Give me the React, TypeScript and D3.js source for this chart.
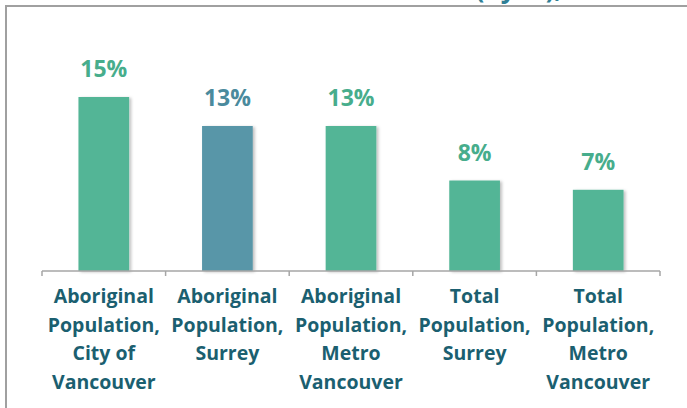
import React from "react";
import * as d3 from "d3";

const categories: string[][] = [
  ["Aboriginal", "Population,", "City of", "Vancouver"],
  ["Aboriginal", "Population,", "Surrey"],
  ["Aboriginal", "Population,", "Metro", "Vancouver"],
  ["Total", "Population,", "Surrey"],
  ["Total", "Population,", "Metro", "Vancouver"],
];
const values: number[] = [15.0, 12.5, 12.5, 7.8, 7.0];
const valueLabels: string[] = ["15%", "13%", "13%", "8%", "7%"];
const highlight: boolean[] = [false, true, false, false, false];

const W = 687;
const H = 408;
const GREEN = "#52b596";
const BLUE = "#5896a8";
const GREEN_TXT = "#47ad8c";
const BLUE_TXT = "#4a8a9d";
const CAT_TXT = "#1b5f70";
const FONT = "'Open Sans', Lato, sans-serif";

export default function App() {
  const ids = categories.map((_, i) => String(i));
  const x = d3
    .scaleBand<string>()
    .domain(ids)
    .range([42, 660])
    .paddingInner(0.59)
    .paddingOuter(0.295);
  const y = d3.scaleLinear().domain([0, 15]).range([271, 97]);
  const step = x.step();
  const tickXs = d3.range(ids.length + 1).map((i) => 42 + i * step);

  return (
    <svg
      width={W}
      height={H}
      style={{ position: "fixed", left: 0, top: 0, background: "#fff" }}
    >
      <defs>
        <filter id="sh" x="-20%" y="-10%" width="150%" height="120%">
          <feDropShadow dx="2" dy="1" stdDeviation="1.5" floodColor="#000" floodOpacity="0.25" />
        </filter>
      </defs>
      <rect x={6} y={6} width={W + 20} height={H + 20} fill="none" stroke="#a0a0a0" strokeWidth={2} />
      <text
        x={562}
        y={-2}
        textAnchor="end"
        fontFamily={FONT}
        fontWeight="bold"
        fontSize={26}
        fill="#2f7f96"
      >
        (by %),
      </text>
      {values.map((v, i) => (
        <rect
          key={"b" + i}
          x={x(ids[i])!}
          y={y(v)}
          width={x.bandwidth()}
          height={y(0) - y(v)}
          fill={highlight[i] ? BLUE : GREEN}
          filter="url(#sh)"
        />
      ))}
      {values.map((v, i) => (
        <text
          key={"v" + i}
          x={x(ids[i])! + x.bandwidth() / 2}
          y={y(v) - 20}
          textAnchor="middle"
          fontFamily={FONT}
          fontWeight="bold"
          fontSize={23}
          fill={highlight[i] ? BLUE_TXT : GREEN_TXT}
        >
          {valueLabels[i]}
        </text>
      ))}
      <line x1={42} x2={660} y1={271} y2={271} stroke="#a6a6a6" strokeWidth={1.5} />
      {tickXs.map((tx, i) => (
        <line key={"t" + i} x1={tx} x2={tx} y1={271} y2={276} stroke="#a6a6a6" strokeWidth={1.5} />
      ))}
      {categories.map((lines, i) => (
        <text
          key={"c" + i}
          textAnchor="middle"
          fontFamily={FONT}
          fontWeight="bold"
          fontSize={19.5}
          fill={CAT_TXT}
        >
          {lines.map((ln, j) => (
            <tspan key={j} x={x(ids[i])! + x.bandwidth() / 2} y={303 + j * 28.5}>
              {ln}
            </tspan>
          ))}
        </text>
      ))}
    </svg>
  );
}
